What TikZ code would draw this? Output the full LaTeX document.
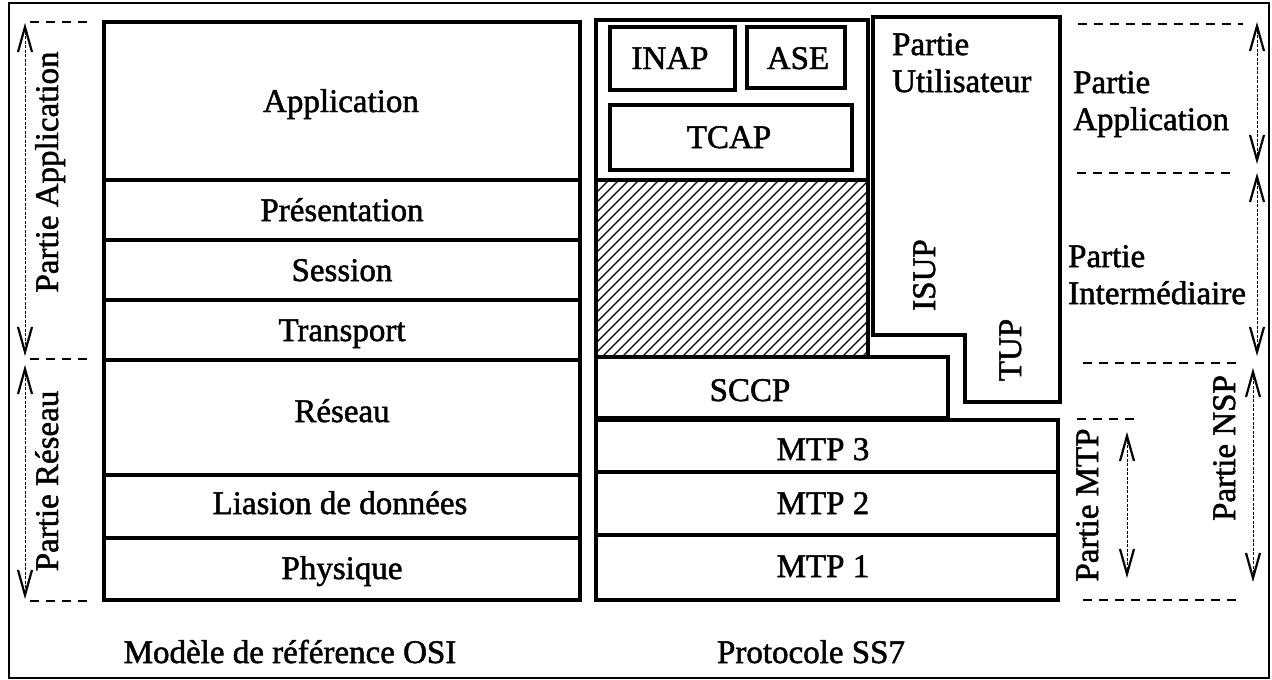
\documentclass[tikz,border=0pt]{standalone}
\usepackage{fontspec}
\setmainfont{Liberation Serif}
\newfontfamily\heavy{Liberation Serif}[UprightFeatures={FakeBold=1.5}]
\newcommand\spanarrow[2]{%
  \draw[shaft] (#1) -- (#2);
  \draw[headline] ([shift={(-7,25)}]#1) -- (#1) -- ([shift={(7,25)}]#1);
  \draw[headline] ([shift={(-7,-25)}]#2) -- (#2) -- ([shift={(7,-25)}]#2);}
\begin{document}
\begin{tikzpicture}[x=1pt,y=-1pt,
  layer/.style={draw, line width=4.5pt, inner sep=0pt, outer sep=0pt},
  lab/.style={font=\heavy\fontsize{33}{38}\selectfont, inner sep=0pt, text height=22pt, text depth=0pt},
  mlab/.style={font=\heavy\fontsize{33}{37}\selectfont, inner sep=0pt, align=left, anchor=north west},
  dsh/.style={line width=1.8pt, dash pattern=on 9pt off 7pt},
  shaft/.style={line width=1pt, dash pattern=on 3pt off 1.5pt},
  headline/.style={line width=2.2pt, line join=miter, line cap=butt},
  hatch/.style={line width=1.1pt}]
\useasboundingbox (0,0) rectangle (1272,680);
% outer frame
\draw[line width=2pt] (9,3) rectangle (1269,678);

% ---------- OSI stack ----------
\node[layer, minimum width=476pt, minimum height=158pt] (app)   at (342,101) {};
\node[layer, minimum width=476pt, minimum height=60pt]  (pres)  at (342,210) {};
\node[layer, minimum width=476pt, minimum height=60pt]  (sess)  at (342,270) {};
\node[layer, minimum width=476pt, minimum height=60pt]  (trans) at (342,330) {};
\node[layer, minimum width=476pt, minimum height=115pt] (res)   at (342,417.5) {};
\node[layer, minimum width=476pt, minimum height=63pt]  (liai)  at (342,506.5) {};
\node[layer, minimum width=476pt, minimum height=62pt]  (phys)  at (342,569) {};
\node[lab] (tapp)   at (341,101) {Application};
\node[lab] (tpres)  at (342,210) {Présentation};
\node[lab] (tsess)  at (342,270) {Session};
\node[lab] (ttrans) at (342,330) {Transport};
\node[lab] (tres)   at (342,411) {Réseau};
\node[lab] (tliai)  at (340,503) {Liasion de données};
\node[lab] (tphys)  at (342,568) {Physique};

% left annotations
\draw[dsh] (30,22) -- (94,22);
\draw[dsh] (30,359) -- (94,359);
\draw[dsh] (30,601) -- (94,601);
\coordinate (la1) at (25,27);  \coordinate (la2) at (25,352);
\coordinate (lr1) at (25,369); \coordinate (lr2) at (25,595);
\spanarrow{la1}{la2}
\spanarrow{lr1}{lr2}
\node[lab, rotate=90] (tpa) at (47,172) {Partie Application};
\node[lab, rotate=90] (tpr) at (47,481) {Partie Réseau};

% ---------- SS7 stack ----------
% upper container with hatching
\begin{scope}
  \clip (596,180) rectangle (868,357);
  \foreach \a in {412,422,...,872} \draw[hatch] (\a,357) -- ++(177,-177);
\end{scope}
\node[layer, minimum width=272pt, minimum height=337pt] (cont) at (732,188.5) {};
\draw[line width=4.5pt] (cont.west |- 0,180) -- (cont.east |- 0,180);

\node[layer, minimum width=125pt, minimum height=63pt] (inap) at (672.5,58.5) {};
\node[layer, minimum width=98pt,  minimum height=61pt] (ase)  at (796,57.5) {};
\node[layer, minimum width=242pt, minimum height=65pt] (tcap) at (731,137.5) {};
\node[lab] (tinap) at (670,58) {INAP};
\node[lab] (tase)  at (798,58) {ASE};
\node[lab] (ttcap) at (729,137) {TCAP};

% user part (L-shaped)
\coordinate (u1) at (873,17);
\coordinate (u2) at (1060,17);
\coordinate (u3) at (1060,402);
\coordinate (u4) at (965,402);
\coordinate (u5) at (965,335);
\coordinate (u6) at (873,335);
\draw[line width=4.5pt, line join=miter] (u1) -- (u2) -- (u3) -- (u4) -- (u5) -- (u6) -- cycle;
\node[mlab] (tpu) at (892,33) {Partie\\Utilisateur};
\node[lab, rotate=90] (tisup) at (924,275) {ISUP};
\node[lab, rotate=90] (ttup)  at (1010,350) {TUP};

\node[layer, minimum width=352pt, minimum height=61pt] (sccp) at (772,387.5) {};
\node[layer, minimum width=462pt, minimum height=52pt] (mtp3) at (827,446) {};
\node[layer, minimum width=462pt, minimum height=63pt] (mtp2) at (827,503.5) {};
\node[layer, minimum width=462pt, minimum height=65pt] (mtp1) at (827,567.5) {};
\node[lab] (tsccp) at (750,390) {SCCP};
\node[lab] (tmtp3) at (823,449) {MTP 3};
\node[lab] (tmtp2) at (823,503) {MTP 2};
\node[lab] (tmtp1) at (823,566) {MTP 1};

% right annotations
\draw[dsh] (1078,24) -- (1243,24);
\draw[dsh] (1077,173) -- (1237,173);
\draw[dsh] (1083,363) -- (1240,363);
\draw[dsh] (1077,419) -- (1137,419);
\draw[dsh] (1083,600) -- (1240,600);
\coordinate (ra1) at (1257,26);  \coordinate (ra2) at (1257,160);
\coordinate (ri1) at (1257,177); \coordinate (ri2) at (1257,352);
\coordinate (rn1) at (1253,372); \coordinate (rn2) at (1253,578);
\coordinate (rm1) at (1127,436); \coordinate (rm2) at (1127,574);
\spanarrow{ra1}{ra2}
\spanarrow{ri1}{ri2}
\spanarrow{rn1}{rn2}
\spanarrow{rm1}{rm2}
\node[mlab] (tpapp) at (1073,71) {Partie\\Application};
\node[mlab] (tpint) at (1068,245) {Partie\\Intermédiaire};
\node[lab, rotate=90] (tnsp) at (1224,448) {Partie NSP};
\node[lab, rotate=90] (tmtp) at (1087,505) {Partie MTP};

% captions
\node[lab] (cosi) at (290,652) {Modèle de référence OSI};
\node[lab] (css7) at (811,652) {Protocole SS7};
\end{tikzpicture}
\end{document}
